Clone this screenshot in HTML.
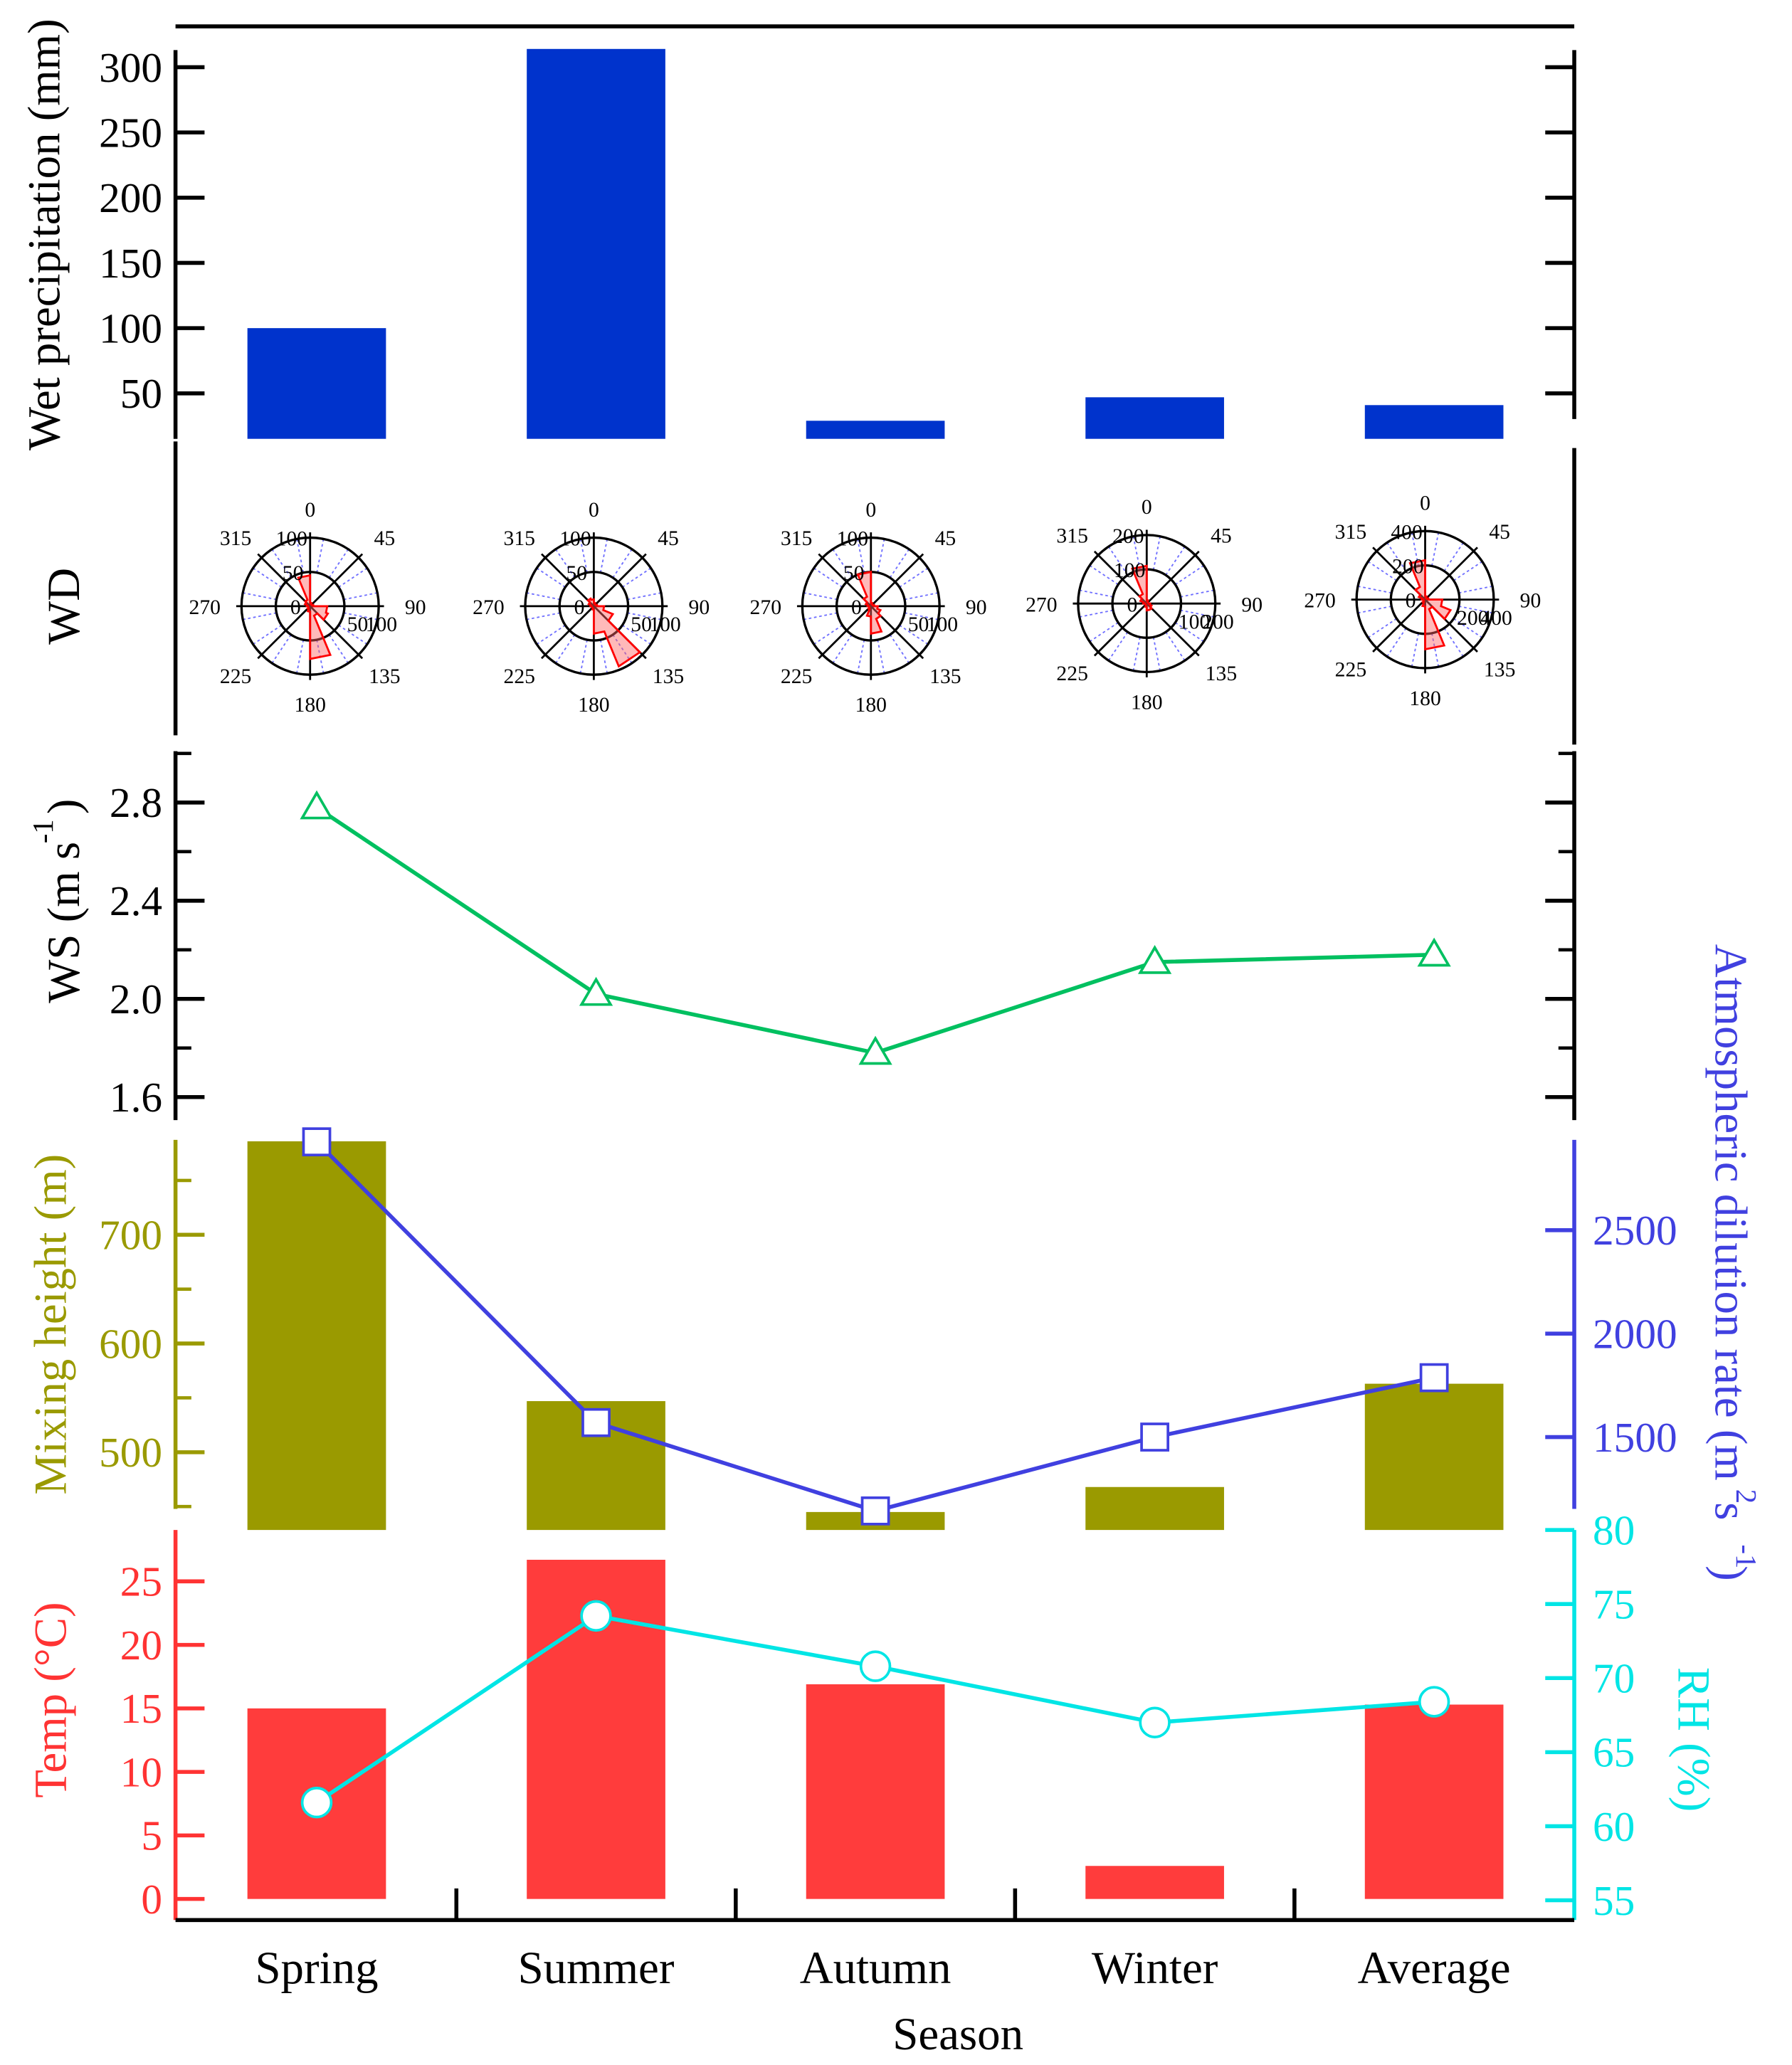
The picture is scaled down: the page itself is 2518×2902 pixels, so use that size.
<!DOCTYPE html>
<html><head><meta charset="utf-8"><style>
html,body{margin:0;padding:0;background:#fff}
svg{display:block}
text{font-family:"Liberation Serif",serif}
</style></head><body>
<svg id="c" width="2518" height="2902" viewBox="0 0 1358 1567" preserveAspectRatio="none" xmlns="http://www.w3.org/2000/svg"></svg>
<script>
const seasons=["Spring","Summer","Autumn","Winter","Average"];
const precip=[100,314,29,47,41];
const windSpeed=[2.78,2.02,1.78,2.15,2.18];
const mixHeight=[786,547,445,468,563];
const dilution=[2927,1570,1143,1500,1787];
const temp=[15,26.7,16.9,2.6,15.3];
const rh=[61.6,74.2,70.8,67,68.4];
const roseMax=[100,100,100,200,400];
const roseSpring=[45,5,3,3,5,25,28,15,77,8,5,3,3,5,8,10];
const roseSummer=[10,5,3,3,5,15,30,95,40,5,3,3,3,5,8,12];
const roseAutumn=[50,5,3,3,5,10,15,20,40,15,5,3,3,5,8,15];
const roseWinter=[110,10,5,5,5,10,15,20,20,10,5,5,5,10,20,30];
const roseAverage=[230,20,10,10,20,100,160,60,290,40,20,10,10,20,40,80];
const roses=[roseSpring,roseSummer,roseAutumn,roseWinter,roseAverage];
const roseCenters=[[235,460],[450,460],[660,460],[869,458],[1080,455]];

const NS="http://www.w3.org/2000/svg", svg=document.getElementById('c');
function el(t,a,txt){const e=document.createElementNS(NS,t);for(const k in a)e.setAttribute(k,a[k]);if(txt!==undefined)e.textContent=txt;svg.appendChild(e);return e;}
const L=133,R=1193;
const xc=i=>240+i*211.7;
const bw=105;

let e;
e=el('line',{x1:L,y1:20,x2:R,y2:20,stroke:'#000','stroke-width':3});


function axis(x,y1,y2,color,name){const a=el('line',{x1:x,y1:y1,x2:x,y2:y2,stroke:color,'stroke-width':3});
}
function ticks(x,dir,vals,ys,color,labels,side,minor,fs){
 vals.forEach((v,k)=>{const y=ys(v);
  const t=el('line',{x1:x,y1:y,x2:x+dir*22,y2:y,stroke:color,'stroke-width':3});
  
  if(labels){const tx=el('text',{x:side<0?x-10:x+14,y:y+11,'font-size':fs||32,fill:color,'text-anchor':side<0?'end':'start'},labels[k]);
   }
 });
 (minor||[]).forEach(v=>{const y=ys(v);const t=el('line',{x1:x,y1:y,x2:x+dir*12,y2:y,stroke:color,'stroke-width':2.5});
  });
}
function title(x,y,txt,color,rot,fs,name){const t=el('text',{x:x,y:y,'font-size':fs||35,fill:color,'text-anchor':'middle',transform:`rotate(${rot} ${x} ${y})`},txt);
 return t;}

// Panel 1
const yP=v=>348-v*0.99;
axis(L,38,333,'#000','precip-left-axis');axis(R,38,318,'#000','precip-right-axis');
const pt=[50,100,150,200,250,300];
ticks(L,1,pt,yP,'#000',pt.map(String),-1);
ticks(R,-1,pt,yP,'#000',null,1);
precip.forEach((v,i)=>{const b=el('rect',{x:xc(i)-bw/2,y:yP(v),width:bw,height:333-yP(v),fill:'#0033cc'});
 });
title(45,178,'Wet precipitation (mm)','#000',-90,35,'precip-axis-title');

// Panel 2
axis(L,335,558,'#000','wd-left-axis');axis(R,340,565,'#000','wd-right-axis');
title(60,460,'WD','#000',-90,35,'wd-axis-title');
const RR=52;
roses.forEach((vals,i)=>{const [cx,cy]=roseCenters[i];const mx=roseMax[i];
 for(let k=0;k<16;k++){const a=(k*22.5+11.25)*Math.PI/180;
  const s=el('line',{x1:cx+RR*0.5*Math.sin(a),y1:cy-RR*0.5*Math.cos(a),x2:cx+RR*Math.sin(a),y2:cy-RR*Math.cos(a),stroke:'#7070ff','stroke-width':1,'stroke-dasharray':'2,2'});
  }
 [0.5,1].forEach(f=>{const c=el('circle',{cx:cx,cy:cy,r:RR*f,fill:'none',stroke:'#000','stroke-width':1.8});
  });
 for(let k=0;k<8;k++){const a=k*45*Math.PI/180;
  const s=el('line',{x1:cx,y1:cy,x2:cx+(RR+4)*Math.sin(a),y2:cy-(RR+4)*Math.cos(a),stroke:'#000','stroke-width':1.5});
  
  const lx=cx+(RR+24)*Math.sin(a)*1.05, ly=cy-(RR+22)*Math.cos(a)+6;
  const t=el('text',{x:lx,y:ly,'font-size':16,'text-anchor':'middle',fill:'#000'},String(k*45));
  }
 const pts=[];
 vals.forEach((v,k)=>{const r=v/mx*RR;const a1=(k*22.5-22.5)*Math.PI/180,a2=(k*22.5)*Math.PI/180;
  pts.push([cx+r*Math.sin(a1),cy-r*Math.cos(a1)],[cx+r*Math.sin(a2),cy-r*Math.cos(a2)]);});
 const p=el('polygon',{points:pts.map(q=>q.join(',')).join(' '),fill:'rgba(255,100,100,0.45)',stroke:'#ff0000','stroke-width':1.5});
 
 const lab=[['0',cx-11,cy+6],[String(mx/2),cx-13,cy-RR/2+6],[String(mx),cx-14,cy-RR+6],[String(mx/2),cx+RR/2+10,cy+19],[String(mx),cx+RR+2,cy+19]];
 lab.forEach(l=>{const t=el('text',{x:l[1],y:l[2],'font-size':16,'text-anchor':'middle',fill:'#000'},l[0]);
  });
});

// Panel 3
const yW=v=>758-(v-2.0)*186.25;
axis(L,570,850,'#000','ws-left-axis');axis(R,570,850,'#000','ws-right-axis');
const wt=[1.6,2.0,2.4,2.8];const wm=[1.8,2.2,2.6,3.0];
ticks(L,1,wt,yW,'#000',wt.map(v=>v.toFixed(1)),-1,wm);
ticks(R,-1,wt,yW,'#000',null,1,wm);
title(60,700,'WS (m s',"#000",-90,35,'ws-axis-title');
const sup=el('text',{x:40,y:640,'font-size':22,transform:'rotate(-90 40 640)',fill:'#000'},'-1');
const cp=el('text',{x:60,y:612,'font-size':35,'text-anchor':'middle',transform:'rotate(-90 60 612)',fill:'#000'},')');
e=el('polyline',{points:windSpeed.map((v,i)=>xc(i)+','+yW(v)).join(' '),fill:'none',stroke:'#00c060','stroke-width':3});

windSpeed.forEach((v,i)=>{const x=xc(i),y=yW(v);const m=el('polygon',{points:`${x},${y-11} ${x-11},${y+8} ${x+11},${y+8}`,fill:'#fff',stroke:'#00c060','stroke-width':2});
 });

// Panel 4
const OL='#9a9a00',BL='#4040e0';
const yM=v=>937-(v-700)*0.825;
const yD=v=>1012-(v-2000)*0.157;
axis(L,865,1145,OL,'mh-axis');axis(R,865,1145,BL,'dilution-axis');
const mt=[500,600,700];
ticks(L,1,mt,yM,OL,mt.map(String),-1,[450,550,650,750]);
const dt=[1500,2000,2500];
ticks(R,-1,dt,yD,BL,dt.map(String),1);
mixHeight.forEach((v,i)=>{const b=el('rect',{x:xc(i)-bw/2,y:yM(v),width:bw,height:1161-yM(v),fill:OL});
 });
title(50,1005,'Mixing height (m)',OL,-90,35,'mh-axis-title');
e=el('polyline',{points:dilution.map((v,i)=>xc(i)+','+yD(v)).join(' '),fill:'none',stroke:BL,'stroke-width':3});

dilution.forEach((v,i)=>{const m=el('rect',{x:xc(i)-10,y:yD(v)-10,width:20,height:20,fill:'#fff',stroke:BL,'stroke-width':2});
 });
title(1300,920,'Atmospheric dilution rate (m',BL,90,35,'dilution-axis-title');
e=el('text',{x:1300,y:1140,'font-size':35,fill:BL,transform:'rotate(90 1300 1140)'},'  s');
e=el('text',{x:1316,y:1130,'font-size':22,fill:BL,transform:'rotate(90 1316 1130)'},'2');
e=el('text',{x:1316,y:1172,'font-size':22,fill:BL,transform:'rotate(90 1316 1172)'},'-1');
e=el('text',{x:1300,y:1188,'font-size':35,fill:BL,transform:'rotate(90 1300 1188)'},')');

// Panel 5
const RD='#ff3333',CY='#00e5e5';
const yT=v=>1441-v*9.64;
const yR=v=>1442-(v-55)*11.24;
axis(L,1161,1457,RD,'temp-axis');axis(R,1161,1457,CY,'rh-axis');
const tt=[0,5,10,15,20,25];
ticks(L,1,tt,yT,RD,tt.map(String),-1);
const rt=[55,60,65,70,75,80];
ticks(R,-1,rt,yR,CY,rt.map(String),1);
temp.forEach((v,i)=>{const b=el('rect',{x:xc(i)-bw/2,y:yT(v),width:bw,height:1441-yT(v),fill:'#ff3c3c'});
 });
title(50,1290,'Temp (°C)',RD,-90,35,'temp-axis-title');
title(1272,1320,'RH (%)',CY,90,35,'rh-axis-title');
e=el('polyline',{points:rh.map((v,i)=>xc(i)+','+yR(v)).join(' '),fill:'none',stroke:CY,'stroke-width':3});

rh.forEach((v,i)=>{const m=el('circle',{cx:xc(i),cy:yR(v),r:11,fill:'#fff',stroke:CY,'stroke-width':2});
 });

// bottom axis
e=el('line',{x1:L,y1:1457,x2:R,y2:1457,stroke:'#000','stroke-width':3});
for(let k=1;k<5;k++){const x=(xc(k-1)+xc(k))/2;const t=el('line',{x1:x,y1:1457,x2:x,y2:1433,stroke:'#000','stroke-width':3});
 }
seasons.forEach((s,i)=>{const t=el('text',{x:xc(i),y:1505,'font-size':35,'text-anchor':'middle',fill:'#000'},s);
 });
e=el('text',{x:726,y:1555,'font-size':35,'text-anchor':'middle',fill:'#000'},'Season');
</script>
</body></html>
